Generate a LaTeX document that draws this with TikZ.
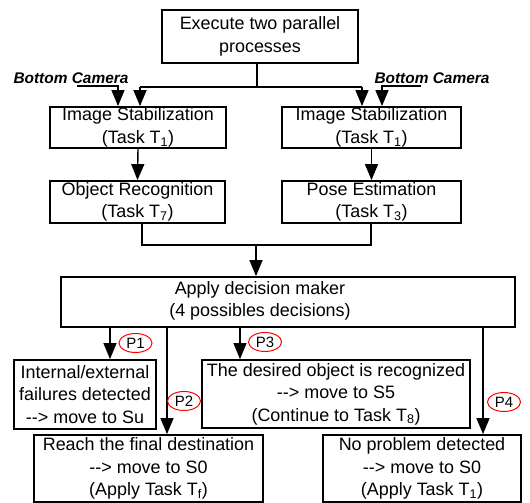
\documentclass[tikz,border=0pt]{standalone}
\usepackage{fontspec}
\setmainfont{Liberation Sans}
\usetikzlibrary{arrows.meta,shapes.geometric}
\begin{document}
\begin{tikzpicture}[x=1bp,y=-1bp,
  box/.style={draw, line width=1.8bp, align=center, inner sep=0pt,
    font=\fontsize{18}{22.5}\selectfont},
  txt/.style={align=center, inner sep=0pt, font=\fontsize{18}{22.5}\selectfont},
  link/.style={line width=1.4bp},
  arr/.style={link, -{Triangle[width=13bp,length=16bp]}},
  tag/.style={ellipse, draw=red, line width=1bp, minimum width=33bp,
    minimum height=19bp, inner sep=0pt, font=\fontsize{15}{15}\selectfont},
  cam/.style={inner sep=0pt, font=\fontsize{15.5}{16}\selectfont\bfseries\itshape}]
\useasboundingbox (0,0) rectangle (530,503);

% process boxes
\node[box, minimum width=196bp, minimum height=53bp] (top) at (260,36.5)
  {Execute two parallel\\processes};
\node[box, minimum width=176bp, minimum height=41bp] (stabL) at (138,127.5)
  {Image Stabilization\\(Task T\textsubscript{1})};
\node[box, minimum width=179bp, minimum height=41bp] (stabR) at (371.5,127.5)
  {Image Stabilization\\(Task T\textsubscript{1})};
\node[box, minimum width=175bp, minimum height=42bp] (objrec) at (137.5,202)
  {Object Recognition\\(Task T\textsubscript{7})};
\node[box, minimum width=179bp, minimum height=42bp] (pose) at (371.5,202)
  {Pose Estimation\\(Task T\textsubscript{3})};
\node[box, minimum width=454bp, minimum height=50bp] (dm) at (288,302) {};
\node[txt] (dmtext) at (260,301) {Apply decision maker\\(4 possibles decisions)};

% outcome boxes
\node[box, minimum width=142bp, minimum height=69bp] (fail) at (85,394.5)
  {Internal/external\\failures detected\\-{}-> move to Su};
\node[box, minimum width=268bp, minimum height=68bp] (desired) at (336,394)
  {The desired object is recognized\\-{}-> move to S5\\(Continue to Task T\textsubscript{8})};
\node[box, minimum width=229bp, minimum height=67bp] (reach) at (148.5,468.5)
  {Reach the final destination\\-{}-> move to S0\\(Apply Task T\textsubscript{f})};
\node[box, minimum width=198bp, minimum height=67bp] (noprob) at (422,468.5)
  {No problem detected\\-{}-> move to S0\\(Apply Task T\textsubscript{1})};

% camera inputs
\node[cam] (camL) at (71,78) {Bottom Camera};
\node[cam] (camR) at (432,78) {Bottom Camera};

% junction points
\coordinate (fork) at (257,87);
\coordinate (aL) at (140,87);
\coordinate (aR) at (362,87);
\coordinate (cL0) at (77,86);
\coordinate (cL) at (118,86);
\coordinate (cR0) at (421,86);
\coordinate (cR) at (382,86);
\coordinate (jL) at (142,245);
\coordinate (jR) at (371,245);
\coordinate (jM) at (256,245);
\coordinate (b1) at (110,327);
\coordinate (b2) at (167,327);
\coordinate (b3) at (240,327);
\coordinate (b4) at (483,327);

% split into two parallel branches
\draw[link] (fork |- top.south) -- (fork);
\draw[link] (aL) -- (aR);
\draw[arr] (aL) -- (aL |- stabL.north);
\draw[arr] (aR) -- (aR |- stabR.north);
\draw[arr] (cL0) -- (cL) -- (cL |- stabL.north);
\draw[arr] (cR0) -- (cR) -- (cR |- stabR.north);

\draw[arr] (stabL.south) -- (objrec.north);
\draw[arr] (stabR.south) -- (pose.north);

% merge into the decision maker
\draw[link] (jL |- objrec.south) -- (jL) -- (jR) -- (jR |- pose.south);
\draw[arr] (jM) -- (jM |- dm.north);

% four decisions
\draw[arr] (b1 |- dm.south) -- (b1 |- fail.north);
\draw[arr] (b2 |- dm.south) -- (b2 |- reach.north);
\draw[arr] (b3 |- dm.south) -- (b3 |- desired.north);
\draw[arr] (b4 |- dm.south) -- (b4 |- noprob.north);

\node[tag] (p1) at (135.5,343) {P1};
\node[tag] (p2) at (184,401) {P2};
\node[tag] (p3) at (265,342) {P3};
\node[tag] (p4) at (504,402) {P4};
\end{tikzpicture}
\end{document}
